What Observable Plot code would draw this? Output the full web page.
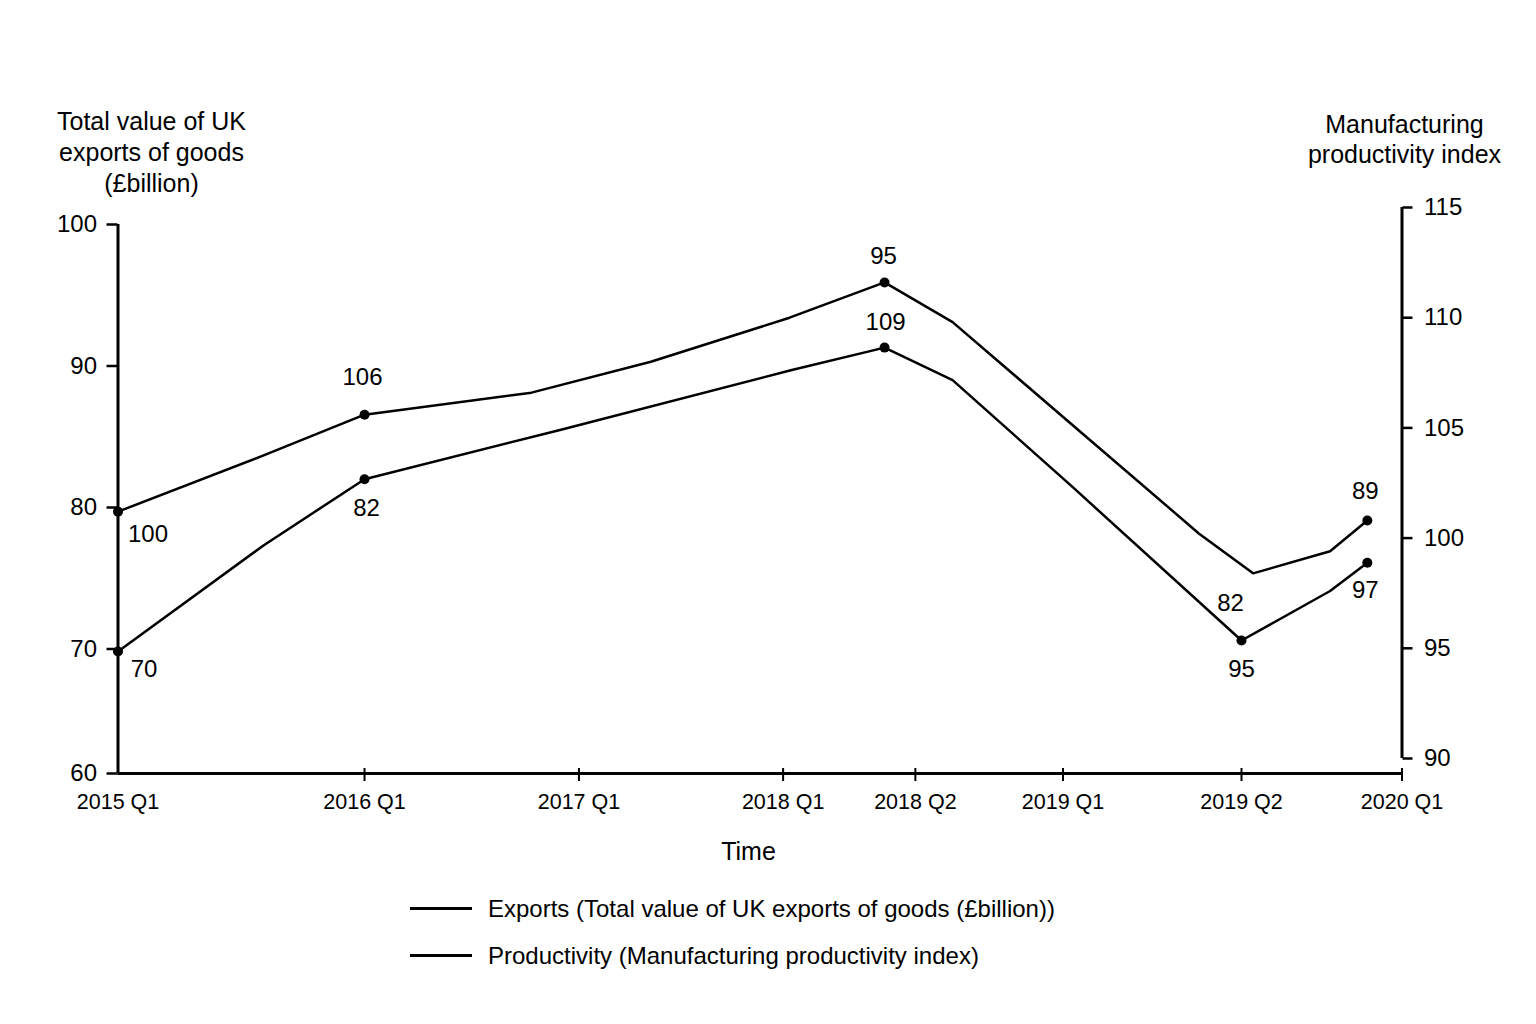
<!DOCTYPE html>
<html>
<head>
<meta charset="utf-8">
<script src="https://cdn.jsdelivr.net/npm/d3@7"></script>
<script src="https://cdn.jsdelivr.net/npm/@observablehq/plot@0.6"></script>
<style>
  body { margin: 0; background: #fff; font-family: "Liberation Sans", Arial, sans-serif; color: #000; }
  #chart svg { display: block; }
  .legend { margin-left: 410px; padding-top: 5px; }
  .row { display: flex; align-items: center; height: 47px; font-size: 24px; }
  .swatch { width: 62px; height: 0; border-top: 3px solid #000; margin-right: 16px; }
</style>
</head>
<body>
<div id="chart"></div>
<div class="legend" id="legend"></div>
<script>
// ---- data ----
const xTicks = [0, 19.2, 35.9, 51.8, 62.1, 73.6, 87.5, 100];
const xTickLabels = ["2015 Q1", "2016 Q1", "2017 Q1", "2018 Q1", "2018 Q2", "2019 Q1", "2019 Q2", "2020 Q1"];
const leftTicks = [60, 70, 80, 90, 100];
const rightTicks = [90, 95, 100, 105, 110, 115];

const exportsX = [0, 11.3, 19.2, 34.5, 52.4, 59.7, 65.0, 74.4, 87.5, 94.4, 97.3];
const exportsY = [69.8, 77.3, 82.0, 85.5, 89.7, 91.3, 89.0, 81.4, 70.6, 74.1, 76.1];
const exportsDot = [1, 0, 1, 0, 0, 1, 0, 0, 1, 0, 1];

const prodX = [0, 11.1, 19.2, 32.2, 41.5, 52.3, 59.7, 65.0, 74.4, 84.2, 88.4, 94.4, 97.3];
const prodY = [101.2, 103.7, 105.6, 106.6, 108.0, 110.0, 111.6, 109.8, 105.1, 100.2, 98.4, 99.4, 100.8];
const prodDot = [1, 0, 1, 0, 0, 0, 1, 0, 0, 0, 0, 0, 1];

const labelValues = [100, 70, 106, 82, 95, 109, 82, 95, 89, 97];
const labelSeries = ["P", "E", "P", "E", "P", "E", "E", "E", "P", "E"];
const labelX = [0, 0, 19.2, 19.2, 59.7, 59.7, 87.5, 87.5, 97.3, 97.3];

const legendItems = ["Exports (Total value of UK exports of goods (£billion))",
                     "Productivity (Manufacturing productivity index)"];
const leftTitle = "Total value of UK\nexports of goods\n(£billion)";
const rightTitle = "Manufacturing\nproductivity index";
const xTitle = "Time";

// ---- layout / styles ----
const labelOffsets = [[30, 23], [26, 18], [-2, -37], [2, 29], [-1, -26], [1, -25], [-11, -37], [0, 29], [-2, -29], [-2, 28]];
const W = 1536, H = 880;
const yStops = [60, 70, 100], yPixels = [773, 648.5, 224];   // left axis (piecewise as drawn)
const rStops = [90, 115], rPixels = [758, 207];              // right axis
const yPix = d3.scaleLinear(yStops, yPixels);
const rPix = d3.scaleLinear(rStops, rPixels);
const toLeft = r => yPix.invert(rPix(r));
const toRight = v => rPix.invert(yPix(v));

const exportsData = exportsX.map((x, i) => ({x, y: exportsY[i], dot: exportsDot[i]}));
const prodData = prodX.map((x, i) => ({x, y: toLeft(prodY[i]), dot: prodDot[i]}));
const labelMap = new Map(xTicks.map((t, i) => [t, xTickLabels[i]]));

const labelMarks = labelValues.map((v, i) => {
  const src = labelSeries[i] === "P" ? prodData : exportsData;
  const pt = src.find(d => d.x === labelX[i]);
  return Plot.text([{x: pt.x, y: pt.y, t: String(v)}], {
    x: "x", y: "y", text: "t", dx: labelOffsets[i][0], dy: labelOffsets[i][1], fontSize: 24
  });
});

const chart = Plot.plot({
  width: W, height: H,
  marginLeft: 117.5, marginRight: 134.5, marginTop: 224, marginBottom: H - 773,
  x: {type: "linear", domain: [0, 100]},
  y: {type: "linear", domain: yStops, range: yPixels},
  style: {fontFamily: "'Liberation Sans', Arial, sans-serif", fontSize: "24px", background: "#fff", color: "#000", overflow: "visible"},
  marks: [
    Plot.ruleY([60], {x1: 0, x2: 100, strokeWidth: 3}),
    Plot.ruleX([0], {y1: 60, y2: 100, strokeWidth: 3}),
    Plot.ruleX([100], {y1: toLeft(90), y2: toLeft(115), strokeWidth: 3}),
    Plot.axisY({anchor: "left", ticks: leftTicks, tickSize: 11, tickPadding: 10, strokeWidth: 2.5, label: null, fontSize: 24}),
    Plot.axisY({anchor: "right", ticks: rightTicks.map(toLeft), tickFormat: d => String(Math.round(toRight(d))),
                tickSize: 10, tickPadding: 12, strokeWidth: 2.5, label: null, fontSize: 24}),
    Plot.axisX({ticks: xTicks, tickFormat: d => labelMap.get(d), tickSize: 0, tickPadding: 20, label: null, fontSize: 21.5}),
    Plot.axisX({ticks: xTicks.slice(1), tickFormat: () => "", tickSize: 13, dy: -5, strokeWidth: 2, label: null}),
    Plot.line(exportsData, {x: "x", y: "y", stroke: "#000", strokeWidth: 2.5}),
    Plot.line(prodData, {x: "x", y: "y", stroke: "#000", strokeWidth: 2.5}),
    Plot.dot(exportsData.filter(d => d.dot), {x: "x", y: "y", r: 5, fill: "#000"}),
    Plot.dot(prodData.filter(d => d.dot), {x: "x", y: "y", r: 5, fill: "#000"}),
    ...labelMarks,
    Plot.text([leftTitle], {text: d => d, frameAnchor: "top-left", lineAnchor: "middle", dx: 33.5, dy: -73, textAnchor: "middle", lineHeight: 1.24, fontSize: 25}),
    Plot.text([rightTitle], {text: d => d, frameAnchor: "top-right", lineAnchor: "middle", dx: 2.5, dy: -86.5, textAnchor: "middle", lineHeight: 1.2, fontSize: 25}),
    Plot.text([xTitle], {text: d => d, frameAnchor: "bottom", lineAnchor: "middle", dx: -11.5, dy: 78, fontSize: 25})
  ]
});
document.getElementById("chart").appendChild(chart);

const legend = document.getElementById("legend");
for (const item of legendItems) {
  const row = document.createElement("div");
  row.className = "row";
  const sw = document.createElement("span");
  sw.className = "swatch";
  const tx = document.createElement("span");
  tx.textContent = item;
  row.appendChild(sw);
  row.appendChild(tx);
  legend.appendChild(row);
}
</script>
</body>
</html>
